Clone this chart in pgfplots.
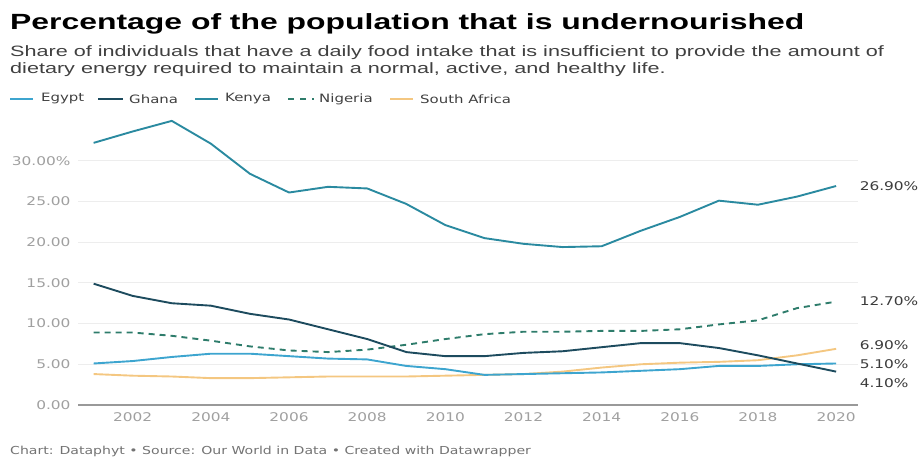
\documentclass[border=0pt]{standalone}
\usepackage{pgfplots}
\pgfplotsset{compat=1.18}
\usepackage{fontspec}
\setmainfont{Liberation Sans}
\newfontfamily\titlefont{Liberation Sans}[FakeStretch=1.45]
\newfontfamily\subfont{Liberation Sans}[FakeStretch=1.44]
\newfontfamily\legfont{DejaVu Sans}[FakeStretch=1.3]
\newfontfamily\tickfont{DejaVu Sans}[FakeStretch=1.28]
\definecolor{egypt}{HTML}{3DA5CF}
\definecolor{ghana}{HTML}{1D4B5E}
\definecolor{kenya}{HTML}{2A8AA0}
\definecolor{nigeria}{HTML}{2E7C6B}
\definecolor{safrica}{HTML}{F4C781}
\definecolor{ticktxt}{HTML}{A0A0A0}
\definecolor{endtxt}{HTML}{3C3C3C}
\begin{document}
\begin{tikzpicture}
\path[use as bounding box] (0pt,0pt) rectangle (918pt,458pt);
% titles
\node[anchor=base west,inner sep=0,font=\titlefont\bfseries\fontsize{22}{26}\selectfont] at (10pt,428pt) {Percentage of the population that is undernourished};
\node[anchor=base west,inner sep=0,text=black!75,font=\subfont\fontsize{15}{18}\selectfont] at (10pt,401pt)
  {Share of individuals that have a daily food intake that is insufficient to provide the amount of};
\node[anchor=base west,inner sep=0,text=black!75,font=\subfont\fontsize{15}{18}\selectfont] at (10pt,384pt)
  {dietary energy required to maintain a normal, active, and healthy life.};
% legend
\begin{scope}[every node/.style={anchor=west,inner sep=0,text=black!75,font=\legfont\fontsize{11.5}{13}\selectfont}]
\draw[egypt,line width=1.8pt] (10pt,359pt) -- (33pt,359pt);
\node at (41pt,359pt) {Egypt};
\draw[ghana,line width=1.8pt] (98pt,359pt) -- (123pt,359pt);
\node at (129pt,359pt) {Ghana};
\draw[kenya,line width=1.8pt] (195pt,359pt) -- (218pt,359pt);
\node at (225pt,359pt) {Kenya};
\draw[nigeria,line width=1.8pt,dash pattern=on 6pt off 6pt] (288pt,359pt) -- (314pt,359pt);
\node at (319pt,359pt) {Nigeria};
\draw[safrica,line width=1.8pt] (390pt,359pt) -- (413pt,359pt);
\node at (420pt,359pt) {South Africa};
\end{scope}
\node[anchor=west,inner sep=0,text=black!55,font=\tickfont\fontsize{11}{12}\selectfont] at (10pt,7pt)
  {Chart: Dataphyt \textbullet{} Source: Our World in Data \textbullet{} Created with Datawrapper};
\begin{axis}[
  at={(78pt,53pt)}, anchor=south west,
  scale only axis, width=780pt, height=289pt,
  xmin=2000.6, xmax=2020.56, ymin=0, ymax=35.5,
  axis line style={draw=none},
  clip=false,
  xtick={2002,2004,...,2020},
  xticklabels={2002,2004,2006,2008,2010,2012,2014,2016,2018,2020},
  ytick={0,5,...,30},
  yticklabels={0.00,5.00,10.00,15.00,20.00,25.00,30.00\%},
  tick style={draw=none},
  ymajorgrids, grid style={draw=black!7,line width=1pt},
  ticklabel style={font=\tickfont\fontsize{12}{14}\selectfont,text=ticktxt},
  yticklabel style={anchor=east,xshift=-4pt},
  xticklabel style={yshift=-4pt},
  every axis plot/.append style={line width=1.9pt,line join=round},
]
\draw[black!40,line width=1.5pt] (axis cs:2000.6,0) -- (axis cs:2020.56,0);
\addplot[safrica] coordinates {(2001,3.8)(2002,3.6)(2003,3.5)(2004,3.3)(2005,3.3)(2006,3.4)(2007,3.5)(2008,3.5)(2009,3.5)(2010,3.6)(2011,3.7)(2012,3.8)(2013,4.1)(2014,4.6)(2015,5.0)(2016,5.2)(2017,5.3)(2018,5.5)(2019,6.1)(2020,6.9)};
\addplot[egypt] coordinates {(2001,5.1)(2002,5.4)(2003,5.9)(2004,6.3)(2005,6.3)(2006,6.0)(2007,5.7)(2008,5.6)(2009,4.8)(2010,4.4)(2011,3.7)(2012,3.8)(2013,3.9)(2014,4.0)(2015,4.2)(2016,4.4)(2017,4.8)(2018,4.8)(2019,5.0)(2020,5.1)};
\addplot[nigeria,dash pattern=on 6pt off 5pt] coordinates {(2001,8.9)(2002,8.9)(2003,8.5)(2004,7.9)(2005,7.2)(2006,6.7)(2007,6.5)(2008,6.8)(2009,7.4)(2010,8.1)(2011,8.7)(2012,9.0)(2013,9.0)(2014,9.1)(2015,9.1)(2016,9.3)(2017,9.9)(2018,10.4)(2019,11.9)(2020,12.7)};
\addplot[ghana] coordinates {(2001,14.9)(2002,13.4)(2003,12.5)(2004,12.2)(2005,11.2)(2006,10.5)(2007,9.3)(2008,8.1)(2009,6.5)(2010,6.0)(2011,6.0)(2012,6.4)(2013,6.6)(2014,7.1)(2015,7.6)(2016,7.6)(2017,7.0)(2018,6.1)(2019,5.1)(2020,4.1)};
\addplot[kenya] coordinates {(2001,32.2)(2002,33.6)(2003,34.9)(2004,32.1)(2005,28.4)(2006,26.1)(2007,26.8)(2008,26.6)(2009,24.7)(2010,22.1)(2011,20.5)(2012,19.8)(2013,19.4)(2014,19.5)(2015,21.4)(2016,23.1)(2017,25.1)(2018,24.6)(2019,25.6)(2020,26.9)};
\begin{scope}[every node/.style={anchor=west,inner sep=0,text=endtxt,font=\tickfont\fontsize{12}{14}\selectfont}]
\node at (axis cs:2020.6,26.9) {26.90\%};
\node at (axis cs:2020.6,12.7) {12.70\%};
\node at (axis cs:2020.6,7.4) {6.90\%};
\node at (axis cs:2020.6,5.0) {5.10\%};
\node at (axis cs:2020.6,2.7) {4.10\%};
\end{scope}
\end{axis}
\end{tikzpicture}
\end{document}
